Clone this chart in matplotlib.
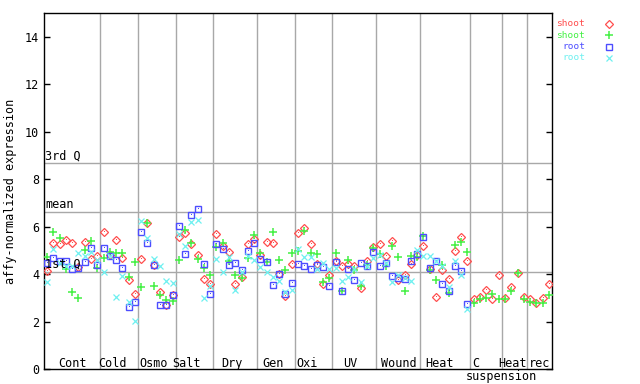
import numpy as np
import matplotlib
matplotlib.use("Agg")
import matplotlib.pyplot as plt

nan = np.nan

groups = ["Cont", "Cold", "Osmo", "Salt", "Dry", "Gen", "Oxi", "UV", "Wound",
          "Heat", "C", "Heat", "rec"]
group_sizes = [9, 6, 6, 6, 7, 6, 6, 7, 7, 8, 5, 4, 4]

shoot_a = [4.13, 5.30, 5.26, 5.44, 5.30, 4.28, 5.34, 4.62, 4.78,
           5.77, 4.80, 5.44, 4.67, 3.75, 3.16,
           4.63, 6.14, 4.39, 3.23, 2.68, 3.12,
           5.58, 5.75, 5.26, 4.81, 3.78, 3.57,
           5.69, 5.20, 4.92, 3.57, 3.89, 5.26, 5.48,
           4.81, 5.34, 5.30, 3.99, 3.09, 4.44,
           5.72, 5.93, 5.26, 4.44, 3.57, 3.96,
           4.53, 4.32, 4.42, 4.32, 3.43, 4.55, 5.12,
           5.26, 4.76, 5.40, 3.76, 3.96, 4.44, 4.82,
           5.20, 4.22, 3.03, 4.16, 3.78, 4.96, 5.55, 4.55,
           2.97, 3.04, 3.33, 2.97, 3.96,
           2.99, 3.46, 4.06, 3.05,
           2.94, 2.77, 2.99, 3.57]

shoot_b = [4.71, 5.77, 5.51, 4.21, 3.23, 2.98, 5.02, 5.40, 4.25,
           4.67, 4.92, 4.88, 4.88, 3.88, 4.52,
           3.45, 6.14, 3.50, 3.12, 2.92, 2.87,
           4.60, 5.86, 5.30, 4.63, 4.25, 3.95,
           5.16, 5.30, 4.55, 3.96, 3.85, 4.69, 5.65,
           4.88, 4.50, 5.77, 4.60, 4.17, 4.88,
           4.99, 5.82, 4.88, 4.84, 3.66, 3.82,
           4.88, 3.29, 4.60, 4.17, 3.49, 4.40, 5.09,
           4.84, 4.33, 5.20, 4.71, 3.28, 4.77, 4.72,
           5.60, 4.18, 3.74, 4.37, 3.19, 5.21, 5.36, 4.92,
           2.77, 2.95, 2.99, 3.16, 2.95,
           2.95, 3.27, 4.06, 2.95,
           2.82, 2.77, 2.77, 3.12]

root_a = [4.46, 4.67, 4.57, 4.56, 4.22, 4.25, 4.51, 5.10, 4.38,
          5.09, 4.75, 4.60, 4.25, 2.62, 2.81,
          5.77, 5.30, 4.39, 2.70, 2.70, 3.10,
          6.03, 4.84, 6.49, 6.74, 4.42, 3.16,
          5.26, 5.06, 4.39, 4.46, 4.16, 4.96, 5.30,
          4.64, 4.50, 3.54, 3.99, 3.16, 3.61,
          4.42, 4.34, 4.21, 4.37, 4.29, 3.50,
          4.50, 3.27, 4.20, 3.74, 4.46, 4.35, 4.92,
          4.34, 4.46, 3.92, 3.83, 3.81, 4.54, 4.83,
          5.55, 4.25, 4.53, 3.57, 3.27, 4.35, 4.13, 2.73,
          nan, nan, nan, nan, nan,
          nan, nan, nan, nan,
          nan, nan, nan, nan]

root_b = [3.66, 5.06, 4.45, 4.34, 4.36, 4.88, 4.76, 4.92, 4.61,
          4.08, 4.75, 3.05, 3.92, 2.83, 2.02,
          6.24, 5.50, 4.63, 4.33, 3.71, 3.61,
          5.68, 5.18, 6.20, 6.28, 2.98, 3.50,
          4.63, 4.08, 4.71, 3.33, 4.10, 4.75, 4.60,
          4.30, 4.08, 3.88, 3.71, 3.26, 3.33,
          5.05, 4.71, 4.73, 4.22, 4.46, 4.20,
          4.25, 3.71, 3.89, 4.20, 3.65, 4.36, 4.68,
          4.81, 4.45, 3.65, 3.95, 3.85, 3.70, 5.01,
          4.75, 4.78, 4.53, 4.35, 3.47, 4.54, 3.96, 2.52,
          nan, nan, nan, nan, nan,
          nan, nan, nan, nan,
          nan, nan, nan, nan]

q1, mean_val, q3 = 4.08, 6.62, 8.67

red, green, blue, cyan = "#ff4d4d", "#44f044", "#4d4dff", "#6ef0f0"
grid = "#a8a8a8"
mono = "DejaVu Sans Mono"
fs = 8.5

n = len(shoot_a)
x = np.arange(n)

fig = plt.figure(figsize=(6.4, 3.84), dpi=100)
ax = fig.add_axes([44 / 640, 15 / 384, 508 / 640, 356 / 384])
ax.set_xlim(-0.5, n - 0.5)
ax.set_ylim(0, 15)

# quartile / mean lines
for val, lab in [(q3, "3rd Q"), (mean_val, "mean"), (q1, "1st Q")]:
    ax.axhline(val, color=grid, lw=1, zorder=1)
    ax.text(-0.3, val + 0.05, lab, family=mono, fontsize=fs, va="bottom", ha="left", zorder=5)

# group separators and labels
bounds = np.cumsum([0] + group_sizes) - 0.5
nudge = [0, -1, -0.6, -1.3, -0.5, -0.5, -1.1, -0.6, 0, -0.9, -1.7, -0.3, 0]
trans = ax.get_xaxis_transform()
for i, name in enumerate(groups):
    if i > 0:
        ax.axvline(bounds[i], color=grid, lw=1, zorder=1)
    cx = (bounds[i] + bounds[i + 1]) / 2 + nudge[i]
    ax.text(cx, 0.016, name, family=mono, fontsize=fs, ha="center", va="center", transform=trans)
ax.text(bounds[11], -0.02, "suspension", family=mono, fontsize=fs, ha="center", va="center",
        transform=trans)

ax.plot(x, shoot_a, ls="none", marker="D", ms=3.6, mfc="none", mec=red, mew=0.9, zorder=3)
ax.plot(x, shoot_a, ls="none", marker=",", color=red, zorder=3)
ax.plot(x, shoot_b, ls="none", marker="+", ms=6, mew=1.1, color=green, zorder=3)
ax.plot(x, root_a, ls="none", marker="s", ms=4.4, mfc="none", mec=blue, mew=1.0, zorder=3)
ax.plot(x, root_a, ls="none", marker=",", color=blue, zorder=3)
ax.plot(x, root_b, ls="none", marker="x", ms=4.4, mew=0.9, color=cyan, zorder=3)

ax.set_yticks(np.arange(0, 15, 2))
ax.set_xticks([])
ax.tick_params(axis="y", direction="in", length=4, width=1, right=True, labelsize=fs)
for t in ax.get_yticklabels():
    t.set_family(mono)
for s in ax.spines.values():
    s.set_linewidth(1)
ax.set_ylabel("affy-normalized expression", family=mono, fontsize=fs, labelpad=6)

# legend outside on the right
leg = [("shoot", red, dict(marker="D", ms=3.6, mfc="none", mec=red, mew=0.9)),
       ("shoot", green, dict(marker="+", ms=6, mew=1.1, color=green)),
       ("root", blue, dict(marker="s", ms=4.4, mfc="none", mec=blue, mew=1.0)),
       ("root", cyan, dict(marker="x", ms=4.4, mew=0.9, color=cyan))]
for i, (lab, col, kw) in enumerate(leg):
    yy = 1 - (24 + i * 11.3) / 384
    fig.text(585 / 640, yy, lab, color=col, family=mono, fontsize=6.8, ha="right", va="center")
    fig.lines.append(plt.Line2D([609 / 640], [yy], transform=fig.transFigure, ls="none", **kw))

fig.savefig("out.png", dpi=100)
